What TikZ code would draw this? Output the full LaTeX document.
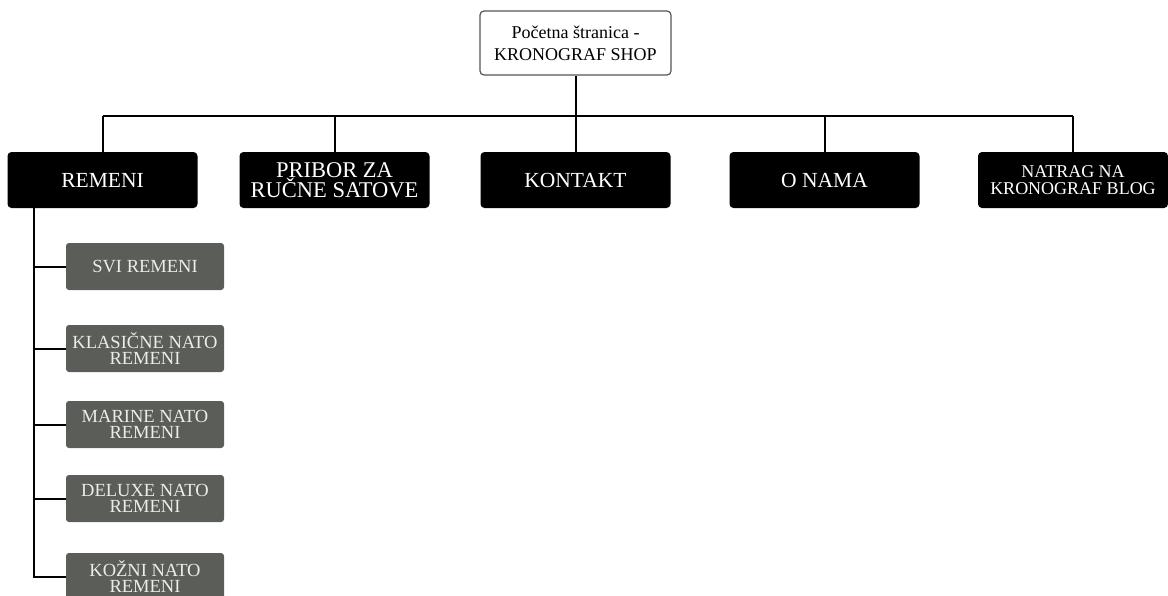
\documentclass[tikz,border=0pt]{standalone}
\usepackage{fontspec}
\setmainfont{Liberation Serif}
\definecolor{subgray}{HTML}{5A5D58}
\definecolor{subtext}{HTML}{EDEDE8}
\definecolor{rootborder}{HTML}{555555}
\begin{document}
\begin{tikzpicture}[x=1pt,y=-1pt,
  rootbox/.style={draw=rootborder,line width=1.2pt,fill=white,rounded corners=4pt,
    minimum width=191pt,minimum height=64pt,inner sep=0pt,align=center,
    font=\fontsize{18}{22}\selectfont},
  topbox/.style={fill=black,rounded corners=4pt,minimum width=190pt,minimum height=56pt,
    inner sep=0pt,align=center,text=white,font=\fontsize{21.5}{17}\selectfont},
  subbox/.style={fill=subgray,rounded corners=3pt,minimum width=158pt,minimum height=47pt,
    inner sep=0pt,align=center,text=subtext,font=\fontsize{18.5}{16.5}\selectfont},
  conn/.style={line width=2pt,black}]
\useasboundingbox (0,0) rectangle (1168,595);
\clip (0,0) rectangle (1168,595);
\node[rootbox] (root) at (575.5,43) {Početna štranica -\\KRONOGRAF SHOP};
\node[topbox] (remeni) at (102.5,180) {REMENI};
\node[topbox,font=\fontsize{22.5}{17.5}\selectfont] (pribor) at (334.5,180) {PRIBOR ZA\\RUČNE SATOVE};
\node[topbox] (kontakt) at (575.5,180) {KONTAKT};
\node[topbox] (onama) at (824.5,180) {O NAMA};
\node[topbox,font=\fontsize{18}{16.5}\selectfont] (natrag) at (1073,180) {NATRAG NA\\KRONOGRAF BLOG};
\node[subbox] (svi) at (145,266.5) {SVI REMENI};
\node[subbox] (klas) at (145,348.5) {KLASIČNE NATO\\REMENI};
\node[subbox] (marine) at (145,424.5) {MARINE NATO\\REMENI};
\node[subbox] (deluxe) at (145,498.5) {DELUXE NATO\\REMENI};
\node[subbox] (kozni) at (145,576.5) {KOŽNI NATO\\REMENI};
\coordinate (busl) at (102,116);
\coordinate (busr) at (1073,116);
\coordinate (trunk) at (34,208);
\draw[conn] (root.south) -- (root.south |- busl);
\draw[conn] (remeni.north |- busl) -- (busr);
\foreach \n in {remeni,pribor,kontakt,onama,natrag}
  \draw[conn] (\n.north |- busl) -- (\n.north);
\draw[conn] (trunk) -- (trunk |- kozni.west) -- (kozni.west);
\foreach \n in {svi,klas,marine,deluxe}
  \draw[conn] (trunk |- \n.west) -- (\n.west);
\end{tikzpicture}
\end{document}
